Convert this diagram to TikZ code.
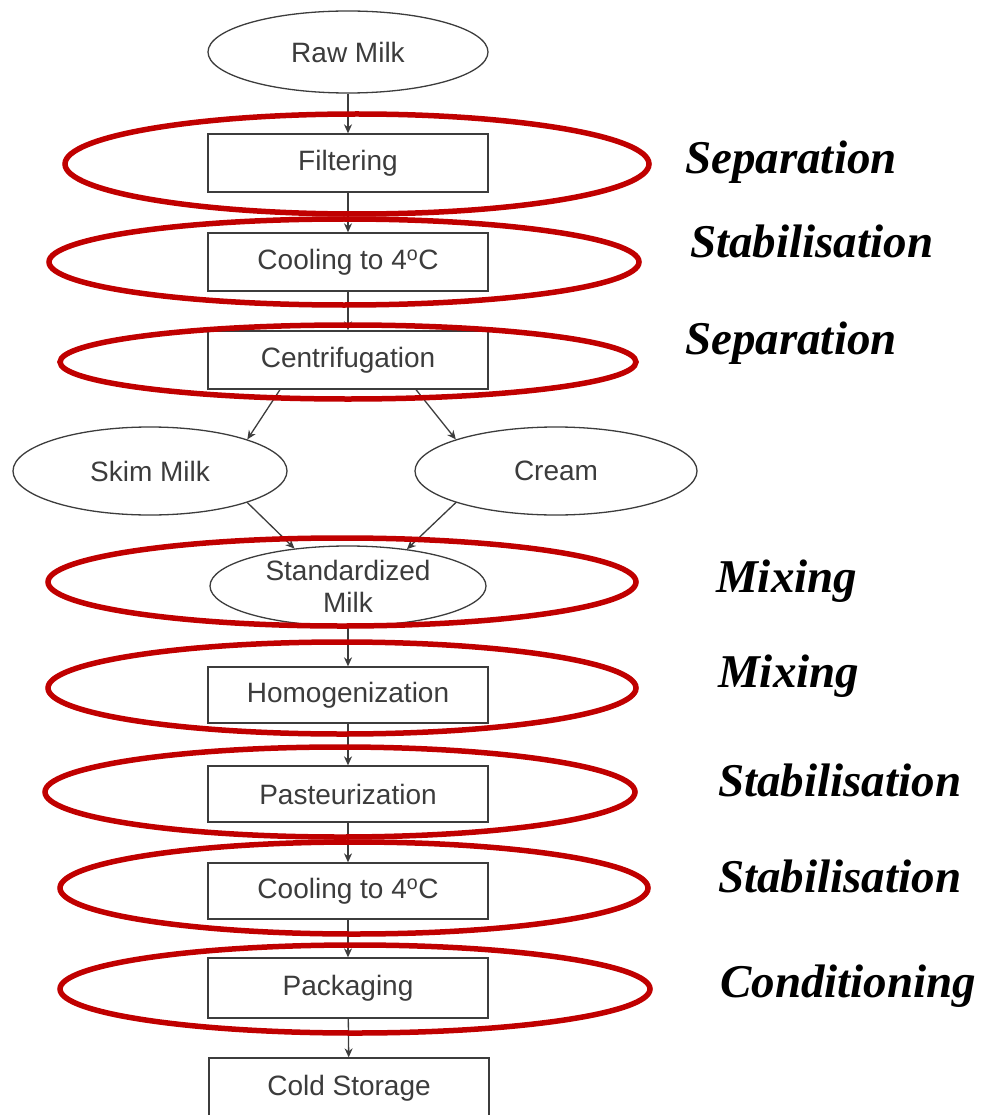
\documentclass[tikz,border=0pt]{standalone}
\usepackage{fontspec}
\setmainfont{Liberation Serif}
\setsansfont{Liberation Sans}
\usetikzlibrary{shapes.geometric,arrows.meta}
\definecolor{ringred}{RGB}{192,0,0}
\definecolor{flowgray}{RGB}{60,60,60}
\begin{document}
\begin{tikzpicture}[x=1pt,y=-1pt,
 flow/.style={draw=flowgray, line width=1.3pt, fill=white, text=flowgray, font=\sffamily\fontsize{28}{32}\selectfont, inner sep=0pt, align=center},
 stepbox/.style={flow, rectangle, minimum width=280pt, minimum height=58pt},
 oval/.style={flow, ellipse, minimum width=280pt, minimum height=82pt},
 redring/.style={ellipse, draw=ringred, line width=5.5pt, inner sep=0pt},
 lab/.style={font=\bfseries\itshape\fontsize{47}{50}\selectfont, anchor=base west, inner sep=0pt},
 arr/.style={draw=flowgray, line width=1.3pt, -{Stealth[length=9pt,width=8pt]}}
]
\useasboundingbox (0,0) rectangle (982,1115);
\clip (0,0) rectangle (982,1115);

% flow nodes
\node[oval] (raw) at (348,52) {Raw Milk};
\node[stepbox] (filt) at (348,163) {Filtering};
\node[stepbox] (cool1) at (348,262) {Cooling to 4\textsuperscript{o}C};
\node[stepbox] (centr) at (348,360) {Centrifugation};
\node[oval, minimum width=274pt, minimum height=88pt] (skim) at (150,471) {Skim Milk};
\node[oval, minimum width=282pt, minimum height=88pt] (cream) at (556,471) {Cream};
\node[oval, minimum width=276pt, minimum height=80pt] (std) at (348,586) {Standardized\\Milk};
\node[stepbox, minimum height=56pt] (homog) at (348,695) {Homogenization};
\node[stepbox, minimum height=56pt] (past) at (348,794) {Pasteurization};
\node[stepbox, minimum height=56pt] (cool2) at (348,891) {Cooling to 4\textsuperscript{o}C};
\node[stepbox, minimum height=60pt] (pack) at (348,988) {Packaging};
\node[stepbox, minimum height=60pt] (cold) at (349,1088) {Cold Storage};

% connectors
\draw[arr] (raw) -- (filt);
\draw[arr] (filt) -- (cool1);
\draw[arr] (cool1) -- (centr);
\draw[arr] ([xshift=-68pt]centr.south) -- (skim.north east);
\draw[arr] ([xshift=68pt]centr.south) -- (cream.north west);
\draw[arr] (skim.south east) -- (std.145);
\draw[arr] (cream.south west) -- (std.32);
\draw[arr] (std) -- (homog);
\draw[arr] (homog) -- (past);
\draw[arr] (past) -- (cool2);
\draw[arr] (cool2) -- (pack);
\draw[arr] (pack) -- (cold);

% red annotation rings
\node[redring, minimum width=584pt, minimum height=100pt] (r1) at (357,164) {};
\node[redring, minimum width=590pt, minimum height=86pt] (r2) at (344,262) {};
\node[redring, minimum width=576pt, minimum height=74pt] (r3) at (348,362) {};
\node[redring, minimum width=588pt, minimum height=88pt] (r4) at (342,582) {};
\node[redring, minimum width=588pt, minimum height=92pt] (r5) at (342,688) {};
\node[redring, minimum width=590pt, minimum height=90pt] (r6) at (340,792) {};
\node[redring, minimum width=588pt, minimum height=92pt] (r7) at (354,888) {};
\node[redring, minimum width=590pt, minimum height=88pt] (r8) at (355,989) {};

% labels
\node[lab] (l1) at (685,174) {Separation};
\node[lab] (l2) at (690,258) {Stabilisation};
\node[lab] (l3) at (685,354) {Separation};
\node[lab] (l4) at (716,592) {Mixing};
\node[lab] (l5) at (718,687) {Mixing};
\node[lab] (l6) at (718,796) {Stabilisation};
\node[lab] (l7) at (718,892) {Stabilisation};
\node[lab] (l8) at (720,997) {Conditioning};
\end{tikzpicture}
\end{document}
